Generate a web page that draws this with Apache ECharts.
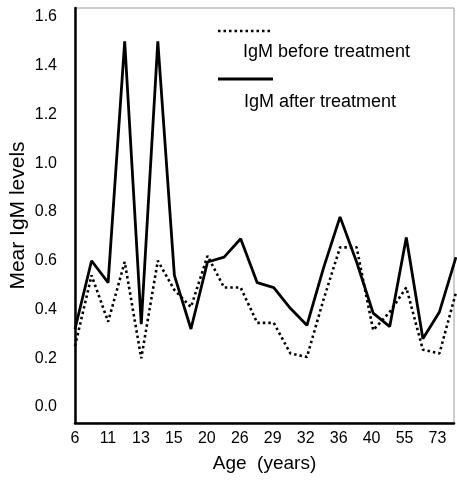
<!DOCTYPE html>
<html>
<head>
<meta charset="utf-8">
<script src="https://cdn.jsdelivr.net/npm/echarts@6/dist/echarts.min.js"></script>
<style>
html,body{margin:0;padding:0;background:#fff;}
#chart{width:457px;height:487px;}
</style>
</head>
<body>
<div id="chart"></div>
<script>
// Tick labels shown under every second measurement point
const tickLabels = ['6','11','13','15','20','26','29','32','36','40','55','73'];
// Mean IgM levels (24 age points)
const igmBefore = [0.25,0.54,0.35,0.595,0.20,0.60,0.48,0.41,0.62,0.49,0.49,0.345,0.345,0.22,0.205,0.44,0.655,0.655,0.315,0.39,0.49,0.235,0.22,0.47];
const igmAfter  = [0.32,0.60,0.51,1.50,0.34,1.50,0.54,0.32,0.595,0.615,0.69,0.51,0.49,0.405,0.335,0.57,0.78,0.595,0.385,0.33,0.695,0.28,0.39,0.615];
const seriesNames = ['IgM before treatment','IgM after treatment'];

const FONT = '"Liberation Sans", Arial, sans-serif';
const nPts = igmAfter.length;

const chart = echarts.init(document.getElementById('chart'), null, {renderer:'canvas'});
chart.setOption({
  backgroundColor:'#fff',
  animation:false,
  grid:[
    {left:75, right:1, top:17, bottom:80},
    {left:75, right:1, top:8, bottom:64, show:true, borderColor:'#9a9a9a', borderWidth:1, backgroundColor:'transparent'}
  ],
  xAxis:[
    {gridIndex:0, type:'value', min:0, max:nPts-1, show:false},
    {gridIndex:1, type:'value', min:0, max:nPts-1, interval:2,
      axisLine:{show:true, lineStyle:{color:'#000', width:2.5}},
      axisTick:{show:false}, splitLine:{show:false},
      axisLabel:{margin:8, color:'#000', fontSize:16, fontFamily:FONT,
        formatter:v => (v % 2 === 0 && tickLabels[v/2] !== undefined) ? tickLabels[v/2] : ''},
      name:'Age  (years)', nameLocation:'middle', nameGap:31,
      nameTextStyle:{color:'#000', fontSize:19, fontFamily:FONT}
    }
  ],
  yAxis:[
    {gridIndex:0, type:'value', min:0, max:1.6, interval:0.2,
      axisLine:{show:false}, axisTick:{show:false}, splitLine:{show:false},
      axisLabel:{margin:18, color:'#000', fontSize:16, fontFamily:FONT, formatter:v => v.toFixed(1)}
    },
    {gridIndex:1, type:'value', min:0, max:1,
      axisLine:{show:true, lineStyle:{color:'#000', width:2.5}},
      axisTick:{show:false}, splitLine:{show:false}, axisLabel:{show:false},
      name:'Mear IgM levels', nameLocation:'middle', nameGap:46,
      nameTextStyle:{color:'#000', fontSize:21, fontFamily:FONT}
    }
  ],
  series:[
    {name:seriesNames[0], type:'line', xAxisIndex:0, yAxisIndex:0, symbol:'none',
      lineStyle:{color:'#000', width:2.6, type:[2.5,3]},
      data: igmBefore.map((v,i)=>[i,v])},
    {name:seriesNames[1], type:'line', xAxisIndex:0, yAxisIndex:0, symbol:'none',
      lineStyle:{color:'#000', width:2.8, type:'solid'},
      data: igmAfter.map((v,i)=>[i,v])}
  ],
  graphic:[
    {type:'line', shape:{x1:218,y1:31,x2:273,y2:31}, style:{stroke:'#000', lineWidth:2.6, lineDash:[2.5,3]}},
    {type:'text', left:243, top:43, style:{text:seriesNames[0], fill:'#000', font:'18px '+FONT}},
    {type:'line', shape:{x1:218,y1:79,x2:273,y2:79}, style:{stroke:'#000', lineWidth:2.8}},
    {type:'text', left:244, top:93, style:{text:seriesNames[1], fill:'#000', font:'18px '+FONT}}
  ]
});
</script>
</body>
</html>
